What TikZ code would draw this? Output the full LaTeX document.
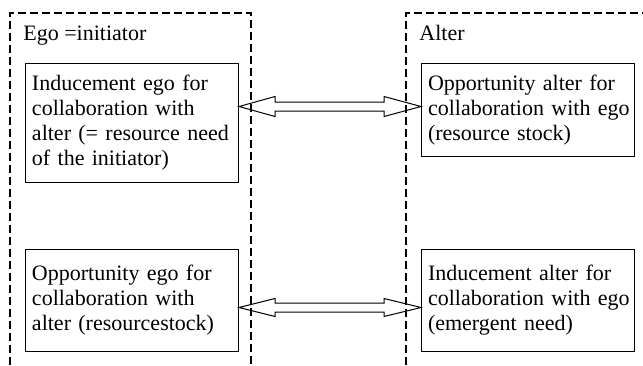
\documentclass[tikz,border=0pt]{standalone}
\usepackage{fontspec}
\setmainfont{Liberation Serif}
\usepackage{tikz}
\usetikzlibrary{calc,positioning}

\tikzset{
  side/.style={line width=0.75pt,dash pattern=on 4pt off 2pt},
  factor/.style={draw,line width=0.5pt,anchor=north west,align=left,
    text width=100pt,inner xsep=3.25pt,inner ysep=0pt,
    font=\fontsize{11}{12.5}\selectfont},
  sidelabel/.style={anchor=base west,inner sep=0pt,
    font=\fontsize{11}{12.5}\selectfont},
  hollow/.style={line width=0.5pt,line join=miter}
}

\begin{document}
\begin{tikzpicture}[x=0.5pt,y=-0.5pt]
    \useasboundingbox (0,0) rectangle (643,365);

    % Ego side
    \draw[side] (10,365) -- (10,13) -- (251,13) -- (251,365);
    \node[sidelabel] (egolabel) at (23,40) {Ego =initiator};
    \node[factor,minimum height=119*0.5pt] (inducego) at (25,63)
        {Inducement ego for\\collaboration with\\alter (= resource need\\of the initiator)};
    \node[factor,minimum height=102*0.5pt] (oppego) at (25,249)
        {Opportunity ego for\\collaboration with\\alter (resourcestock)};

    % Alter side
    \draw[side] (406,365) -- (406,13) -- (643,13);
    \node[sidelabel] (alterlabel) at (419,40) {Alter};
    \node[factor,minimum height=93*0.5pt] (oppalter) at (421,63)
        {Opportunity alter for\\collaboration~with~ego\\(resource stock)};
    \node[factor,minimum height=102*0.5pt] (inducalter) at (421,249)
        {Inducement alter for\\collaboration~with~ego\\(emergent need)};

    % Arrows
    \coordinate (ta) at ($(inducego.east)+(0,-16.5)$);
    \coordinate (tb) at (oppalter.west |- ta);
    \draw[hollow] (ta) -- ($(ta)+(36,-10)$) -- ($(ta)+(36,-4.5)$)
        -- ($(tb)+(-37,-4.5)$) -- ($(tb)+(-37,-10)$) -- (tb)
        -- ($(tb)+(-37,10)$) -- ($(tb)+(-37,4.5)$)
        -- ($(ta)+(36,4.5)$) -- ($(ta)+(36,10)$) -- cycle;

    \coordinate (ba) at ($(oppego.east)+(0,7)$);
    \coordinate (bb) at (inducalter.west |- ba);
    \draw[hollow] (ba) -- ($(ba)+(36,-9)$) -- ($(ba)+(36,-4.5)$)
        -- ($(bb)+(-37,-4.5)$) -- ($(bb)+(-37,-9)$) -- (bb)
        -- ($(bb)+(-37,9)$) -- ($(bb)+(-37,4.5)$)
        -- ($(ba)+(36,4.5)$) -- ($(ba)+(36,9)$) -- cycle;
\end{tikzpicture}
\end{document}
